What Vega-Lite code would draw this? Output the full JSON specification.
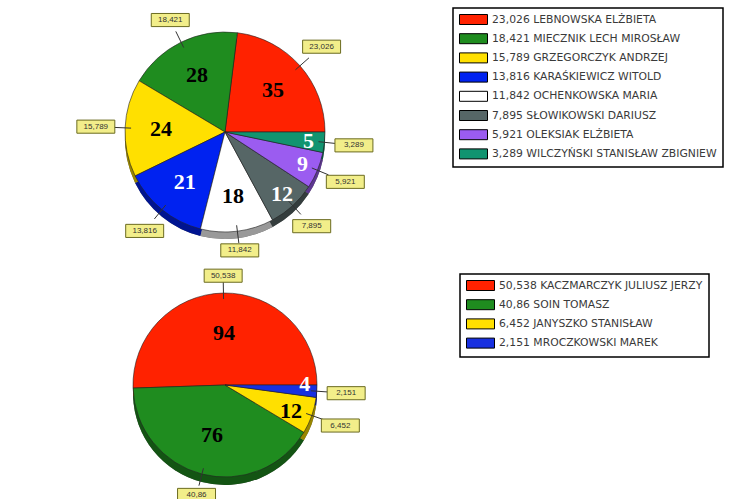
{
  "$schema": "https://vega.github.io/schema/vega-lite/v6.json",
  "background": "white",
  "padding": 5,
  "spacing": 41,
  "bounds": "flush",
  "config": {
    "view": {"stroke": null},
    "legend": {
      "orient": "none",
      "title": null,
      "symbolType": "M-1,-1H4.6V1H-1Z",
      "symbolSize": 100,
      "symbolStrokeColor": "black",
      "symbolStrokeWidth": 1,
      "symbolOpacity": 1,
      "labelFont": "DejaVu Sans",
      "labelFontSize": 10.8,
      "labelColor": "#3a3a3a",
      "labelLimit": 400,
      "labelOffset": 22,
      "rowPadding": 4.2,
      "strokeColor": "black",
      "strokeWidth": 1.5,
      "fillColor": "white",
      "padding": 6
    }
  },
  "vconcat": [
    {
      "width": 440,
      "height": 254,
      "data": {"values": [
        {"order": 0, "entry": "23,026 LEBNOWSKA ELŻBIETA", "value": 23.026, "label": "23,026", "num": 35},
        {"order": 1, "entry": "18,421 MIECZNIK LECH MIROSŁAW", "value": 18.421, "label": "18,421", "num": 28},
        {"order": 2, "entry": "15,789 GRZEGORCZYK ANDRZEJ", "value": 15.789, "label": "15,789", "num": 24},
        {"order": 3, "entry": "13,816 KARAŚKIEWICZ WITOLD", "value": 13.816, "label": "13,816", "num": 21},
        {"order": 4, "entry": "11,842 OCHENKOWSKA MARIA", "value": 11.842, "label": "11,842", "num": 18},
        {"order": 5, "entry": "7,895 SŁOWIKOWSKI DARIUSZ", "value": 7.895, "label": "7,895", "num": 12},
        {"order": 6, "entry": "5,921 OLEKSIAK ELŻBIETA", "value": 5.921, "label": "5,921", "num": 9},
        {"order": 7, "entry": "3,289 WILCZYŃSKI STANISŁAW ZBIGNIEW", "value": 3.289, "label": "3,289", "num": 5}
      ]},
      "layer": [
        {
          "encoding": {
            "theta": {"field": "value", "type": "quantitative", "stack": true, "scale": {"range": [1.5708, -4.7124]}},
            "order": {"field": "order", "type": "quantitative"}
          },
          "layer": [
            {"mark": {"type": "arc", "outerRadius": 100, "yOffset": 7, "fill": "black"}},
            {
              "mark": {"type": "arc", "outerRadius": 100, "yOffset": 7, "opacity": 0.6},
              "encoding": {"color": {"field": "entry", "type": "nominal",
                "legend": {"legendX": 448, "legendY": 3},
                "scale": {"domain": ["23,026 LEBNOWSKA ELŻBIETA", "18,421 MIECZNIK LECH MIROSŁAW", "15,789 GRZEGORCZYK ANDRZEJ", "13,816 KARAŚKIEWICZ WITOLD", "11,842 OCHENKOWSKA MARIA", "7,895 SŁOWIKOWSKI DARIUSZ", "5,921 OLEKSIAK ELŻBIETA", "3,289 WILCZYŃSKI STANISŁAW ZBIGNIEW"],
                  "range": ["#ff2200", "#1f8c1f", "#ffe000", "#0022f0", "#ffffff", "#566666", "#9b5cf0", "#119470"]}}}
            },
            {
              "mark": {"type": "arc", "outerRadius": 100, "stroke": "#222", "strokeWidth": 0.6},
              "encoding": {"color": {"field": "entry", "type": "nominal"}}
            },
            {
              "mark": {"type": "text", "radius": 64, "font": "Liberation Serif", "fontSize": 22, "fontWeight": "bold"},
              "encoding": {
                "text": {"condition": {"test": "datum.order > 4", "value": ""}, "field": "num", "type": "quantitative"},
                "color": {"condition": {"test": "datum.order == 3", "value": "white"}, "value": "black"}
              }
            },
            {
              "mark": {"type": "text", "radius": 84, "font": "Liberation Serif", "fontSize": 22, "fontWeight": "bold", "color": "white"},
              "encoding": {
                "text": {"condition": {"test": "datum.order <= 4", "value": ""}, "field": "num", "type": "quantitative"}
              }
            }
          ]
        },
        {
          "transform": [
            {"joinaggregate": [{"op": "sum", "field": "value", "as": "total"}]},
            {"stack": "value", "groupby": [], "sort": [{"field": "order", "order": "ascending"}], "as": ["v0", "v1"]},
            {"calculate": "PI/2 - PI*(datum.v0 + datum.v1)/datum.total", "as": "ang"},
            {"calculate": "100 + 10 + 19*abs(sin(datum.ang)) + 7*abs(cos(datum.ang))", "as": "rl"},
            {"calculate": "datum.rl*sin(datum.ang)", "as": "lx"},
            {"calculate": "datum.rl*cos(datum.ang)", "as": "ly"},
            {"calculate": "94*sin(datum.ang)", "as": "ax"},
            {"calculate": "94*cos(datum.ang)", "as": "ay"},
            {"calculate": "112*sin(datum.ang)", "as": "bx"},
            {"calculate": "112*cos(datum.ang)", "as": "by"}
          ],
          "layer": [
            {
              "mark": {"type": "rule", "color": "#333", "strokeWidth": 1},
              "encoding": {
                "x": {"field": "ax", "type": "quantitative", "scale": {"domain": [-220, 220], "nice": false, "zero": false}, "axis": null},
                "y": {"field": "ay", "type": "quantitative", "scale": {"domain": [-127, 127], "nice": false, "zero": false}, "axis": null},
                "x2": {"field": "bx"},
                "y2": {"field": "by"}
              }
            },
            {
              "mark": {"type": "point", "shape": "M-1.45,-0.5H1.45V0.5H-1.45Z", "size": 686, "filled": true, "fill": "#f2ee8a", "stroke": "#6b6b20", "strokeWidth": 1, "opacity": 1},
              "encoding": {
                "x": {"field": "lx", "type": "quantitative", "scale": {"domain": [-220, 220], "nice": false, "zero": false}, "axis": null},
                "y": {"field": "ly", "type": "quantitative", "scale": {"domain": [-127, 127], "nice": false, "zero": false}, "axis": null}
              }
            },
            {
              "mark": {"type": "text", "font": "Liberation Sans", "fontSize": 8, "color": "#333"},
              "encoding": {
                "x": {"field": "lx", "type": "quantitative", "scale": {"domain": [-220, 220], "nice": false, "zero": false}, "axis": null},
                "y": {"field": "ly", "type": "quantitative", "scale": {"domain": [-127, 127], "nice": false, "zero": false}, "axis": null},
                "text": {"field": "label", "type": "nominal"}
              }
            }
          ]
        }
      ]
    },
    {
      "width": 440,
      "height": 170,
      "data": {"values": [
        {"order": 0, "entry": "50,538 KACZMARCZYK JULIUSZ JERZY", "value": 50.538, "label": "50,538", "num": 94},
        {"order": 1, "entry": "40,86 SOIN TOMASZ", "value": 40.86, "label": "40,86", "num": 76},
        {"order": 2, "entry": "6,452 JANYSZKO STANISŁAW", "value": 6.452, "label": "6,452", "num": 12},
        {"order": 3, "entry": "2,151 MROCZKOWSKI MAREK", "value": 2.151, "label": "2,151", "num": 4}
      ]},
      "layer": [
        {
          "encoding": {
            "theta": {"field": "value", "type": "quantitative", "stack": true, "scale": {"range": [1.5708, -4.7124]}},
            "order": {"field": "order", "type": "quantitative"}
          },
          "layer": [
            {"mark": {"type": "arc", "outerRadius": 92, "yOffset": 8, "fill": "black"}},
            {
              "mark": {"type": "arc", "outerRadius": 92, "yOffset": 8, "opacity": 0.6},
              "encoding": {"color": {"field": "entry", "type": "nominal",
                "legend": {"legendX": 455, "legendY": -26},
                "scale": {"domain": ["50,538 KACZMARCZYK JULIUSZ JERZY", "40,86 SOIN TOMASZ", "6,452 JANYSZKO STANISŁAW", "2,151 MROCZKOWSKI MAREK"],
                  "range": ["#ff2200", "#1f8c1f", "#ffe000", "#1830e0"]}}}
            },
            {
              "mark": {"type": "arc", "outerRadius": 92, "stroke": "#222", "strokeWidth": 0.6},
              "encoding": {"color": {"field": "entry", "type": "nominal"}}
            },
            {
              "mark": {"type": "text", "radius": 52, "font": "Liberation Serif", "fontSize": 22, "fontWeight": "bold", "color": "black"},
              "encoding": {
                "text": {"condition": {"test": "datum.order > 1", "value": ""}, "field": "num", "type": "quantitative"}
              }
            },
            {
              "mark": {"type": "text", "radius": 70, "dy": 3, "font": "Liberation Serif", "fontSize": 22, "fontWeight": "bold", "color": "black"},
              "encoding": {
                "text": {"condition": {"test": "datum.order != 2", "value": ""}, "field": "num", "type": "quantitative"}
              }
            },
            {
              "mark": {"type": "text", "radius": 80, "dy": -6, "font": "Liberation Serif", "fontSize": 22, "fontWeight": "bold", "color": "white"},
              "encoding": {
                "text": {"condition": {"test": "datum.order != 3", "value": ""}, "field": "num", "type": "quantitative"}
              }
            }
          ]
        },
        {
          "transform": [
            {"joinaggregate": [{"op": "sum", "field": "value", "as": "total"}]},
            {"stack": "value", "groupby": [], "sort": [{"field": "order", "order": "ascending"}], "as": ["v0", "v1"]},
            {"calculate": "PI/2 - PI*(datum.v0 + datum.v1)/datum.total", "as": "ang"},
            {"calculate": "92 + 10 + 19*abs(sin(datum.ang)) + 7*abs(cos(datum.ang))", "as": "rl"},
            {"calculate": "datum.rl*sin(datum.ang)", "as": "lx"},
            {"calculate": "datum.rl*cos(datum.ang)", "as": "ly"},
            {"calculate": "86*sin(datum.ang)", "as": "ax"},
            {"calculate": "86*cos(datum.ang)", "as": "ay"},
            {"calculate": "104*sin(datum.ang)", "as": "bx"},
            {"calculate": "104*cos(datum.ang)", "as": "by"}
          ],
          "layer": [
            {
              "mark": {"type": "rule", "color": "#333", "strokeWidth": 1},
              "encoding": {
                "x": {"field": "ax", "type": "quantitative", "scale": {"domain": [-220, 220], "nice": false, "zero": false}, "axis": null},
                "y": {"field": "ay", "type": "quantitative", "scale": {"domain": [-85, 85], "nice": false, "zero": false}, "axis": null},
                "x2": {"field": "bx"},
                "y2": {"field": "by"}
              }
            },
            {
              "mark": {"type": "point", "shape": "M-1.45,-0.5H1.45V0.5H-1.45Z", "size": 686, "filled": true, "fill": "#f2ee8a", "stroke": "#6b6b20", "strokeWidth": 1, "opacity": 1},
              "encoding": {
                "x": {"field": "lx", "type": "quantitative", "scale": {"domain": [-220, 220], "nice": false, "zero": false}, "axis": null},
                "y": {"field": "ly", "type": "quantitative", "scale": {"domain": [-85, 85], "nice": false, "zero": false}, "axis": null}
              }
            },
            {
              "mark": {"type": "text", "font": "Liberation Sans", "fontSize": 8, "color": "#333"},
              "encoding": {
                "x": {"field": "lx", "type": "quantitative", "scale": {"domain": [-220, 220], "nice": false, "zero": false}, "axis": null},
                "y": {"field": "ly", "type": "quantitative", "scale": {"domain": [-85, 85], "nice": false, "zero": false}, "axis": null},
                "text": {"field": "label", "type": "nominal"}
              }
            }
          ]
        }
      ]
    }
  ],
  "resolve": {"scale": {"color": "independent", "theta": "independent", "x": "independent", "y": "independent"}, "legend": {"color": "independent"}}
}
